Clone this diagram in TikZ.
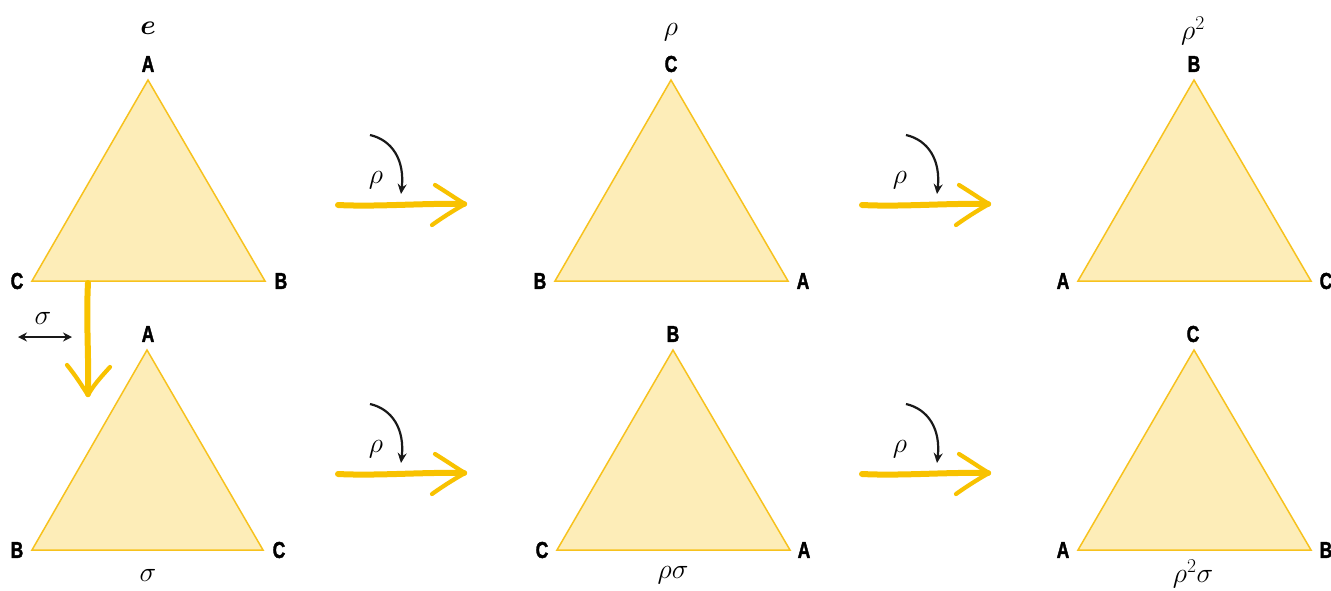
\RequirePackage{fix-cm}
\documentclass[tikz,border=0pt]{standalone}
\usepackage{fontspec}
\usepackage{amsmath,bm}
\newfontfamily\vfont[FakeBold=2]{Liberation Sans}
\usetikzlibrary{arrows.meta}
\definecolor{trifill}{RGB}{253,237,184}
\definecolor{triedge}{RGB}{247,194,30}
\definecolor{arrowyellow}{RGB}{248,194,0}
\newcommand{\vl}[1]{\scalebox{0.76}[1]{\vfont\bfseries #1}}
\tikzset{
  tri/.style={fill=trifill, draw=triedge, line width=1.5pt, line join=miter},
  vlab/.style={font=\fontsize{23}{26}\selectfont, inner sep=0pt},
  glab/.style={font=\fontsize{28}{32}\selectfont, inner sep=0pt},
  yshaft/.style={draw=arrowyellow, line width=6pt, line cap=round},
  ybarb/.style={draw=arrowyellow, line width=4.2pt, line cap=round},
  rotarrow/.style={draw=black!90, line width=2.2pt, -{Stealth[length=10pt,width=9pt]}},
  flip/.style={draw=black!90, line width=2.2pt, {Stealth[length=9pt,width=9pt]}-{Stealth[length=9pt,width=9pt]}}
}
\newcommand{\yarrowat}[2]{%
  \begin{scope}[shift={(#1,#2)}]
    \draw[yshaft] (0,0) .. controls (40,2) and (85,-2) .. (126,-1);
    \draw[ybarb] (97,-20) .. controls (110,-12) and (120,-5) .. (127,-1);
    \draw[ybarb] (94,20) .. controls (108,10) and (120,3) .. (127,-1);
  \end{scope}}
\begin{document}
\begin{tikzpicture}[x=1pt,y=-1pt]
\useasboundingbox (0,0) rectangle (1331,590);
\fill[white] (0,0) rectangle (1331,590);

% ---------- triangles ----------
% top row
\coordinate (t1a) at (148,80);  \coordinate (t1l) at (32,281);  \coordinate (t1r) at (265,281);
\coordinate (t2a) at (671,80);  \coordinate (t2l) at (555,281); \coordinate (t2r) at (788,281);
\coordinate (t3a) at (1194,80); \coordinate (t3l) at (1078,281);\coordinate (t3r) at (1311,281);
% bottom row
\coordinate (b1a) at (147,350); \coordinate (b1l) at (32,550);  \coordinate (b1r) at (263,550);
\coordinate (b2a) at (673,350); \coordinate (b2l) at (557,550); \coordinate (b2r) at (790,550);
\coordinate (b3a) at (1194,350);\coordinate (b3l) at (1078,550);\coordinate (b3r) at (1311,550);

\draw[tri] (t1a) -- (t1r) -- (t1l) -- cycle;
\draw[tri] (t2a) -- (t2r) -- (t2l) -- cycle;
\draw[tri] (t3a) -- (t3r) -- (t3l) -- cycle;
\draw[tri] (b1a) -- (b1r) -- (b1l) -- cycle;
\draw[tri] (b2a) -- (b2r) -- (b2l) -- cycle;
\draw[tri] (b3a) -- (b3r) -- (b3l) -- cycle;

% ---------- vertex labels ----------
\node[vlab] (t1A) at (148,64) {\vl{A}};
\node[vlab] (t1C) at (17,281) {\vl{C}};
\node[vlab] (t1B) at (281,281) {\vl{B}};
\node[vlab] (t2C) at (671,64) {\vl{C}};
\node[vlab] (t2B) at (540,281) {\vl{B}};
\node[vlab] (t2A) at (803,281) {\vl{A}};
\node[vlab] (t3B) at (1194,64) {\vl{B}};
\node[vlab] (t3A) at (1063,281) {\vl{A}};
\node[vlab] (t3C) at (1326,281) {\vl{C}};

\node[vlab] (b1A) at (148,334) {\vl{A}};
\node[vlab] (b1B) at (17,550) {\vl{B}};
\node[vlab] (b1C) at (279,550) {\vl{C}};
\node[vlab] (b2B) at (673,334) {\vl{B}};
\node[vlab] (b2C) at (542,550) {\vl{C}};
\node[vlab] (b2A) at (804,550) {\vl{A}};
\node[vlab] (b3C) at (1193,334) {\vl{C}};
\node[vlab] (b3A) at (1063,550) {\vl{A}};
\node[vlab] (b3B) at (1326,550) {\vl{B}};

% ---------- group element labels ----------
\node[glab] (le) at (148,28) {$\bm{e}$};
\node[glab] (lr) at (671,32) {$\rho$};
\node[glab] (lr2) at (1193,31) {$\rho^2$};
\node[glab] (ls) at (148,575) {$\sigma$};
\node[glab] (lrs) at (673,575) {$\rho\sigma$};
\node[glab] (lr2s) at (1193,574) {$\rho^2\sigma$};

% ---------- yellow arrows ----------
\yarrowat{338}{205}
\yarrowat{862}{205}
\yarrowat{338}{474}
\yarrowat{862}{474}

% vertical (sigma) arrow
\coordinate (vs) at (88,283);
\coordinate (ve) at (88,394);
\draw[yshaft] (vs) .. controls (86,320) and (89,360) .. (ve);
\draw[ybarb] (67,365) .. controls (76,376) and (82,386) .. (88,395);
\draw[ybarb] (110,367) .. controls (100,378) and (93,386) .. (88,395);

% ---------- black rotation arrows ----------
\coordinate (r1s) at (370,135); \coordinate (r1e) at (401,194);
\coordinate (r2s) at (906,135); \coordinate (r2e) at (937,194);
\coordinate (r3s) at (370,404); \coordinate (r3e) at (401,463);
\coordinate (r4s) at (906,404); \coordinate (r4e) at (937,463);
\draw[rotarrow] (r1s) .. controls (392,140) and (405,160) .. (r1e);
\draw[rotarrow] (r2s) .. controls (928,140) and (941,160) .. (r2e);
\draw[rotarrow] (r3s) .. controls (392,409) and (405,429) .. (r3e);
\draw[rotarrow] (r4s) .. controls (928,409) and (941,429) .. (r4e);
\node[glab] (rl1) at (376,180) {$\rho$};
\node[glab] (rl2) at (900,180) {$\rho$};
\node[glab] (rl3) at (376,449) {$\rho$};
\node[glab] (rl4) at (900,449) {$\rho$};

% ---------- reflection arrow ----------
\coordinate (fl) at (18,337); \coordinate (fr) at (72,337);
\draw[flip] (fl) -- (fr);
\node[glab] (fs) at (43,318) {$\sigma$};
\end{tikzpicture}
\end{document}
